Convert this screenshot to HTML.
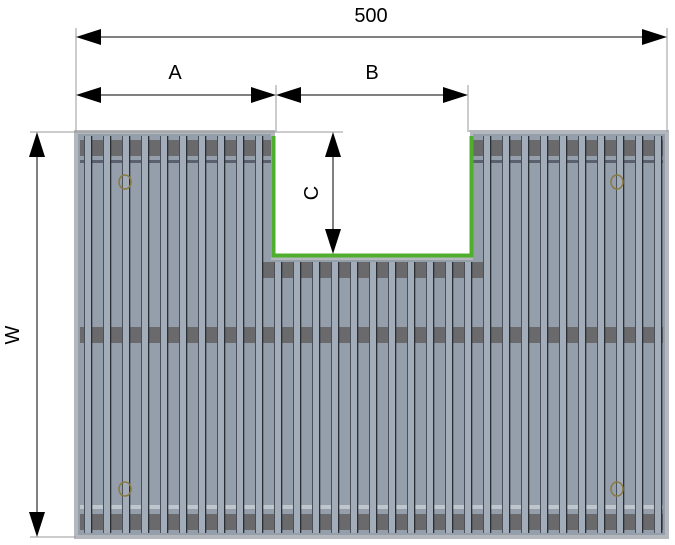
<!DOCTYPE html>
<html><head><style>body{margin:0;background:#fff}svg{display:block}</style></head>
<body>
<svg width="675" height="545" viewBox="0 0 675 545" xmlns="http://www.w3.org/2000/svg" font-family="Liberation Sans, sans-serif">
<defs>
<pattern id="bars" x="84" y="0" width="19" height="545" patternUnits="userSpaceOnUse">
<rect x="0" y="0" width="8" height="545" fill="#a3adba"/>
<rect x="0" y="0" width="1" height="545" fill="#4a505a"/>
<rect x="7" y="0" width="1.3" height="545" fill="#2a2e35"/>
</pattern>
</defs>
<!-- grating body -->
<path d="M76 132 H273 V258 H471 V132 H667 V537 H76 Z" fill="#959eab"/>
<!-- dark bands -->
<rect x="80" y="140" width="193" height="16" fill="#6a6a6c"/>
<rect x="471" y="140" width="192" height="16" fill="#6a6a6c"/>
<rect x="261" y="262" width="222" height="16" fill="#6a6a6c"/>
<rect x="80" y="327" width="583" height="16" fill="#6a6a6c"/>
<rect x="80" y="514" width="583" height="16" fill="#6a6a6c"/>
<rect x="80" y="505" width="583" height="4" fill="#c0c6ce"/>
<rect x="80" y="160" width="193" height="3" fill="#5a616c"/>
<rect x="471" y="160" width="192" height="3" fill="#5a616c"/>
<!-- bars -->
<path d="M80 136 H270 V262 H474 V136 H663 V533 H80 Z" fill="url(#bars)"/>
<!-- frame -->
<path d="M76 132 H273 V258 H471 V132 H667 V537 H76 Z" fill="none" stroke="#b4b8bd" stroke-width="4"/>
<!-- bolts -->
<ellipse cx="125" cy="182" rx="6" ry="7" fill="none" stroke="#8a7a40" stroke-width="1.5"/>
<ellipse cx="617" cy="182" rx="6" ry="7" fill="none" stroke="#8a7a40" stroke-width="1.5"/>
<ellipse cx="125" cy="489" rx="6" ry="7" fill="none" stroke="#8a7a40" stroke-width="1.5"/>
<ellipse cx="617" cy="489" rx="6" ry="7" fill="none" stroke="#8a7a40" stroke-width="1.5"/>
<!-- notch -->
<rect x="275" y="132" width="195" height="122" fill="#fff"/>
<path d="M273.5 136 V255.5 H471.5 V136" fill="none" stroke="#4fae2e" stroke-width="4"/>
<!-- dimension lines -->
<g stroke="#999" stroke-width="1" fill="none">
<line x1="76" y1="28" x2="76" y2="132"/>
<line x1="667" y1="28" x2="667" y2="132"/>
<line x1="276" y1="85" x2="276" y2="132"/>
<line x1="468" y1="85" x2="468" y2="132"/>
<line x1="30" y1="132" x2="343" y2="132"/>
<line x1="30" y1="537" x2="76" y2="537"/>
</g>
<g stroke="#000" stroke-width="1">
<line x1="90" y1="37" x2="655" y2="37"/>
<line x1="90" y1="95" x2="265" y2="95"/>
<line x1="290" y1="95" x2="455" y2="95"/>
<line x1="333" y1="145" x2="333" y2="240"/>
<line x1="37" y1="145" x2="37" y2="525"/>
</g>
<g fill="#000">
<polygon points="76,37 101,29 101,45"/>
<polygon points="667,37 642,29 642,45"/>
<polygon points="76,95 101,87 101,103"/>
<polygon points="276,95 251,87 251,103"/>
<polygon points="276,95 301,87 301,103"/>
<polygon points="468,95 443,87 443,103"/>
<polygon points="333,132 325,157 341,157"/>
<polygon points="333,254 325,229 341,229"/>
<polygon points="37,132 29,157 45,157"/>
<polygon points="37,537 29,512 45,512"/>
</g>
<g font-size="20" fill="#000" text-anchor="middle">
<text x="371" y="22">500</text>
<text x="175" y="79">A</text>
<text x="372" y="79">B</text>
<text transform="translate(318,193) rotate(-90)">C</text>
<text transform="translate(19,335) rotate(-90)">W</text>
</g>
</svg>
</body></html>
